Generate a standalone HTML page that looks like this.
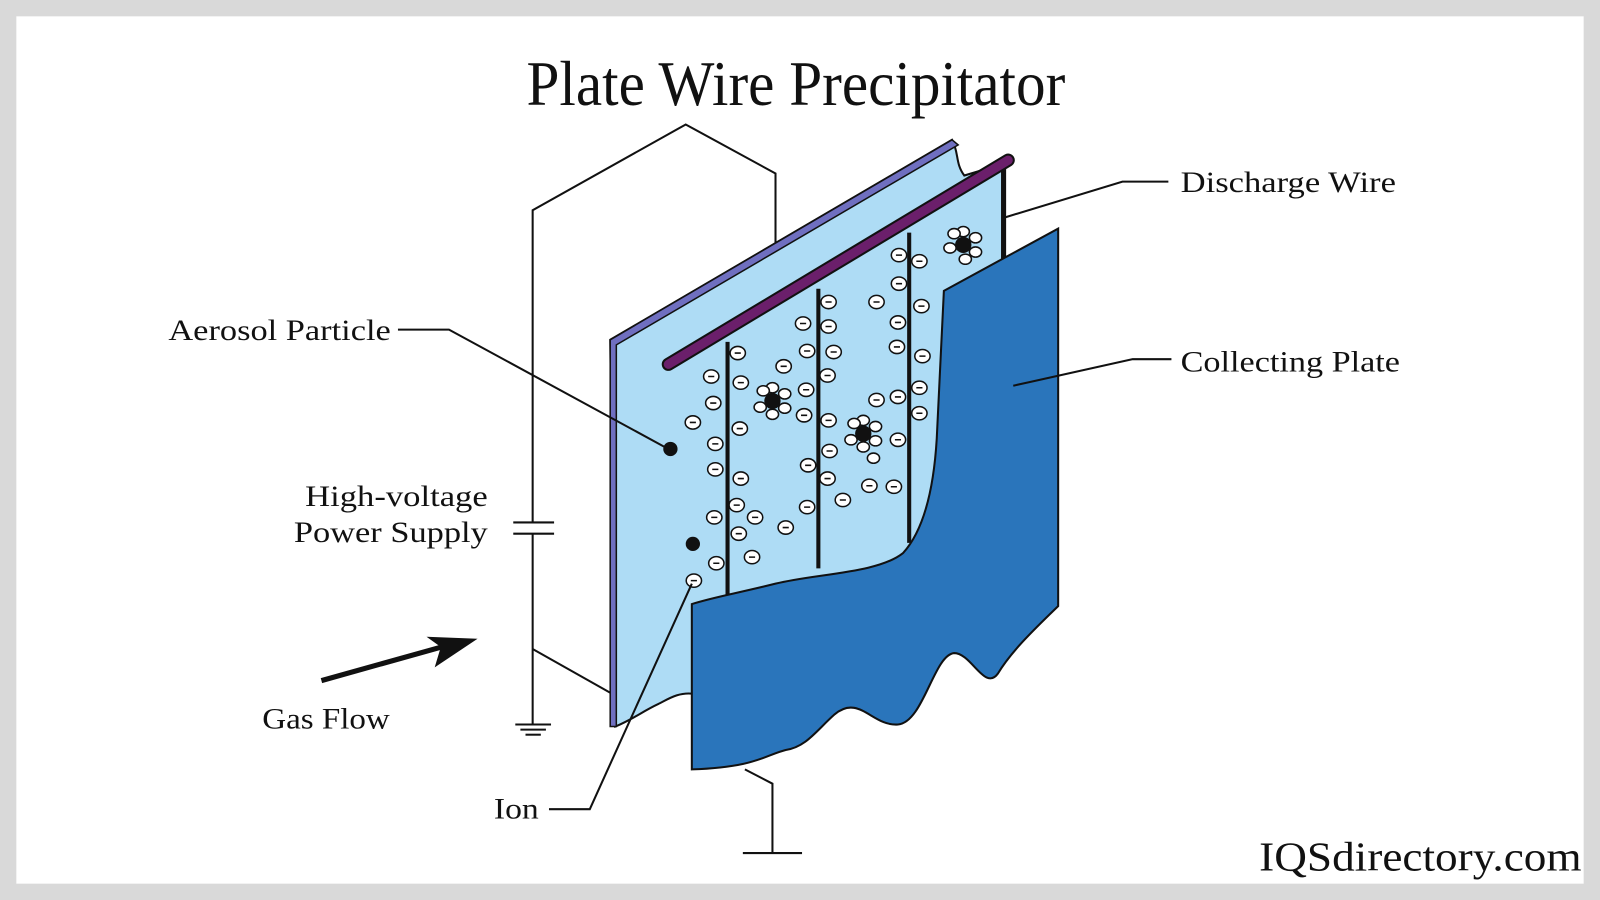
<!DOCTYPE html>
<html><head><meta charset="utf-8"><style>
html,body{margin:0;padding:0;background:#d9d9d9;}
svg{display:block;}
text{font-family:"Liberation Serif","DejaVu Serif",serif;fill:#111;}
</style></head><body>
<svg width="1600" height="900" viewBox="0 0 1568 882" preserveAspectRatio="none" xmlns="http://www.w3.org/2000/svg">
<rect x="0" y="0" width="1568" height="882" fill="#d9d9d9"/>
<rect x="16" y="16" width="1536" height="850" fill="#fff"/>
<text x="780" y="103" font-size="62" text-anchor="middle" textLength="528" lengthAdjust="spacingAndGlyphs">Plate Wire Precipitator</text>

<g stroke="#111" stroke-width="2" fill="none">
<polyline points="760,285 760,170 672,122 522,206 522,512"/>
<line x1="503" y1="512" x2="543" y2="512"/>
<line x1="503" y1="523" x2="543" y2="523"/>
<line x1="522" y1="523" x2="522" y2="710"/>
<line x1="505" y1="710" x2="540" y2="710"/>
<line x1="510" y1="715" x2="535" y2="715"/>
<line x1="515" y1="720" x2="530" y2="720"/>
<line x1="522" y1="636" x2="600" y2="680"/>
<polyline points="730,754 757,768 757,836"/>
<line x1="728" y1="836" x2="786" y2="836"/>
</g>

<path d="M598,333 L933,137 C940,150 936,160 945,172 L985,160 L985,252 L1030,240 L1030,596 L890,596 L690,602 L680,680 C665,678 655,685 645,690 C630,697 620,705 603,712 Z" fill="#aedcf5" stroke="#111" stroke-width="2"/>
<path d="M598,333 L933,137 L939,142 L604,338 L604,712 L598,712 Z" fill="#6f6fc0" stroke="#111" stroke-width="1.5"/>

<line x1="655" y1="357" x2="988" y2="157" stroke="#111" stroke-width="13" stroke-linecap="round"/>
<line x1="655" y1="357" x2="988" y2="157" stroke="#6b1f6b" stroke-width="9" stroke-linecap="round"/>

<g stroke="#111" stroke-width="4">
<line x1="713" y1="335" x2="713" y2="585"/>
<line x1="802" y1="283" x2="802" y2="557"/>
<line x1="891" y1="228" x2="891" y2="532"/>
<line x1="983" y1="167" x2="983" y2="255"/>
</g>

<g fill="#fff" stroke="#111" stroke-width="1.5">
<ellipse cx="697" cy="369" rx="7.5" ry="6.5"/><ellipse cx="699" cy="395" rx="7.5" ry="6.5"/><ellipse cx="679" cy="414" rx="7.5" ry="6.5"/><ellipse cx="701" cy="435" rx="7.5" ry="6.5"/><ellipse cx="701" cy="460" rx="7.5" ry="6.5"/><ellipse cx="700" cy="507" rx="7.5" ry="6.5"/><ellipse cx="702" cy="552" rx="7.5" ry="6.5"/><ellipse cx="680" cy="569" rx="7.5" ry="6.5"/><ellipse cx="723" cy="346" rx="7.5" ry="6.5"/><ellipse cx="726" cy="375" rx="7.5" ry="6.5"/><ellipse cx="725" cy="420" rx="7.5" ry="6.5"/><ellipse cx="726" cy="469" rx="7.5" ry="6.5"/><ellipse cx="722" cy="495" rx="7.5" ry="6.5"/><ellipse cx="740" cy="507" rx="7.5" ry="6.5"/><ellipse cx="724" cy="523" rx="7.5" ry="6.5"/><ellipse cx="737" cy="546" rx="7.5" ry="6.5"/><ellipse cx="770" cy="517" rx="7.5" ry="6.5"/><ellipse cx="768" cy="359" rx="7.5" ry="6.5"/><ellipse cx="787" cy="317" rx="7.5" ry="6.5"/><ellipse cx="791" cy="344" rx="7.5" ry="6.5"/><ellipse cx="790" cy="382" rx="7.5" ry="6.5"/><ellipse cx="788" cy="407" rx="7.5" ry="6.5"/><ellipse cx="792" cy="456" rx="7.5" ry="6.5"/><ellipse cx="791" cy="497" rx="7.5" ry="6.5"/><ellipse cx="812" cy="296" rx="7.5" ry="6.5"/><ellipse cx="812" cy="320" rx="7.5" ry="6.5"/><ellipse cx="817" cy="345" rx="7.5" ry="6.5"/><ellipse cx="811" cy="368" rx="7.5" ry="6.5"/><ellipse cx="812" cy="412" rx="7.5" ry="6.5"/><ellipse cx="813" cy="442" rx="7.5" ry="6.5"/><ellipse cx="811" cy="469" rx="7.5" ry="6.5"/><ellipse cx="826" cy="490" rx="7.5" ry="6.5"/><ellipse cx="859" cy="296" rx="7.5" ry="6.5"/><ellipse cx="881" cy="250" rx="7.5" ry="6.5"/><ellipse cx="901" cy="256" rx="7.5" ry="6.5"/><ellipse cx="881" cy="278" rx="7.5" ry="6.5"/><ellipse cx="903" cy="300" rx="7.5" ry="6.5"/><ellipse cx="880" cy="316" rx="7.5" ry="6.5"/><ellipse cx="879" cy="340" rx="7.5" ry="6.5"/><ellipse cx="904" cy="349" rx="7.5" ry="6.5"/><ellipse cx="859" cy="392" rx="7.5" ry="6.5"/><ellipse cx="880" cy="389" rx="7.5" ry="6.5"/><ellipse cx="901" cy="380" rx="7.5" ry="6.5"/><ellipse cx="901" cy="405" rx="7.5" ry="6.5"/><ellipse cx="880" cy="431" rx="7.5" ry="6.5"/><ellipse cx="852" cy="476" rx="7.5" ry="6.5"/><ellipse cx="876" cy="477" rx="7.5" ry="6.5"/>
<ellipse cx="757" cy="380" rx="6" ry="5"/><ellipse cx="769" cy="386" rx="6" ry="5"/><ellipse cx="769" cy="400" rx="6" ry="5"/><ellipse cx="757" cy="406" rx="6" ry="5"/><ellipse cx="745" cy="399" rx="6" ry="5"/><ellipse cx="748" cy="383" rx="6" ry="5"/>
<ellipse cx="846" cy="412" rx="6" ry="5"/><ellipse cx="858" cy="418" rx="6" ry="5"/><ellipse cx="858" cy="432" rx="6" ry="5"/><ellipse cx="846" cy="438" rx="6" ry="5"/><ellipse cx="834" cy="431" rx="6" ry="5"/><ellipse cx="837" cy="415" rx="6" ry="5"/><ellipse cx="856" cy="449" rx="6" ry="5"/>
<ellipse cx="944" cy="227" rx="6" ry="5"/><ellipse cx="956" cy="233" rx="6" ry="5"/><ellipse cx="956" cy="247" rx="6" ry="5"/><ellipse cx="946" cy="254" rx="6" ry="5"/><ellipse cx="931" cy="243" rx="6" ry="5"/><ellipse cx="935" cy="229" rx="6" ry="5"/>
</g>
<g fill="#111">
<circle cx="757" cy="393" r="8"/><circle cx="846" cy="425" r="8"/><circle cx="944" cy="240" r="8"/>
<circle cx="657" cy="440" r="7"/><circle cx="679" cy="533" r="7"/>
</g>
<g stroke="#111" stroke-width="1.5">
<path d="M694,369h6M696,395h6M676,414h6M698,435h6M698,460h6M697,507h6M699,552h6M677,569h6M720,346h6M723,375h6M722,420h6M723,469h6M719,495h6M737,507h6M721,523h6M734,546h6M767,517h6M765,359h6M784,317h6M788,344h6M787,382h6M785,407h6M789,456h6M788,497h6M809,296h6M809,320h6M814,345h6M808,368h6M809,412h6M810,442h6M808,469h6M823,490h6M856,296h6M878,250h6M898,256h6M878,278h6M900,300h6M877,316h6M876,340h6M901,349h6M856,392h6M877,389h6M898,380h6M898,405h6M877,431h6M849,476h6M873,477h6"/>
</g>

<path d="M678,592 C700,585 720,582 760,572 C800,562 860,562 885,542 C905,520 915,480 918,430 L925,285 L1037,224 L1037,594 C1010,620 990,640 978,660 C965,678 952,640 935,640 C915,642 905,708 880,710 C855,712 842,680 818,700 C800,716 790,732 770,735 C750,740 740,752 678,754 Z" fill="#2a75bb" stroke="#111" stroke-width="2"/>

<g stroke="#111" stroke-width="2" fill="none">
<polyline points="985,213 1100,178 1145,178"/>
<polyline points="993,378 1110,352 1148,352"/>
<polyline points="390,323 440,323 655,440"/>
<polyline points="538,793 578,793 678,572"/>
<line x1="315" y1="667" x2="440" y2="632" stroke-width="5"/>
</g>
<path d="M468,626 L418,624 L432,634 L426,654 Z" fill="#111"/>

<g font-size="29">
<text x="1157" y="188" textLength="211" lengthAdjust="spacingAndGlyphs">Discharge Wire</text>
<text x="1157" y="364" textLength="215" lengthAdjust="spacingAndGlyphs">Collecting Plate</text>
<text x="165" y="333" textLength="218" lengthAdjust="spacingAndGlyphs">Aerosol Particle</text>
<text x="299" y="496" textLength="179" lengthAdjust="spacingAndGlyphs">High-voltage</text>
<text x="288" y="531" textLength="190" lengthAdjust="spacingAndGlyphs">Power Supply</text>
<text x="257" y="714" textLength="125" lengthAdjust="spacingAndGlyphs">Gas Flow</text>
<text x="484" y="802" textLength="44" lengthAdjust="spacingAndGlyphs">Ion</text>
</g>
<text x="1550" y="853" font-size="40" text-anchor="end" textLength="316" lengthAdjust="spacingAndGlyphs">IQSdirectory.com</text>
</svg>
</body></html>
